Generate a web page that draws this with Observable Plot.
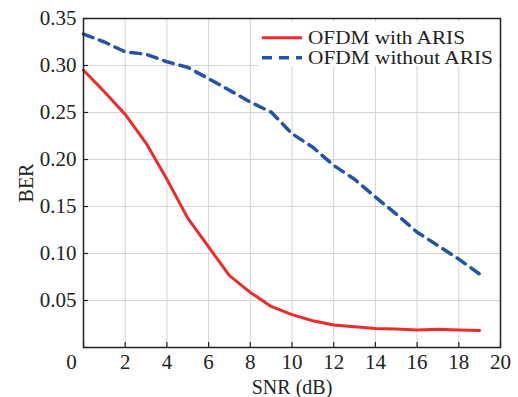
<!DOCTYPE html>
<html>
<head>
<meta charset="utf-8">
<script src="https://cdn.jsdelivr.net/npm/d3@7"></script>
<script src="https://cdn.jsdelivr.net/npm/@observablehq/plot@0.6"></script>
<style>
  html, body { margin: 0; padding: 0; background: white; }
  #chart { position: relative; width: 518px; height: 397px; }
</style>
</head>
<body>
<div id="chart"></div>
<script>
const snr = [0,1,2,3,4,5,6,7,8,9,10,11,12,13,14,15,16,17,18,19];
const berWithARIS = [0.295,0.272,0.248,0.2175,0.179,0.1376,0.107,0.0764,0.0586,0.0437,0.035,0.0285,0.0239,0.022,0.0203,0.0196,0.0185,0.0194,0.0187,0.0182];
const berWithoutARIS = [0.3334,0.325,0.3145,0.312,0.304,0.298,0.286,0.2737,0.261,0.2505,0.2275,0.213,0.1937,0.179,0.16,0.142,0.1226,0.1084,0.094,0.078];
const seriesNames = ["OFDM with ARIS", "OFDM without ARIS"];
const seriesColors = ["#ee2b2b", "#2553a5"];
const xTicks = [0,2,4,6,8,10,12,14,16,18,20];
const yTicks = [0,0.05,0.10,0.15,0.20,0.25,0.30,0.35];

const rows = [];
snr.forEach((x, i) => {
  rows.push({snr: x, ber: berWithARIS[i], series: seriesNames[0]});
  rows.push({snr: x, ber: berWithoutARIS[i], series: seriesNames[1]});
});

const font = "'Liberation Serif', 'Times New Roman', serif";
const ink = "#222";

const plot = Plot.plot({
  width: 518,
  height: 397,
  marginLeft: 83,
  marginRight: 18,
  marginTop: 18,
  marginBottom: 50,
  style: {fontFamily: font, fontSize: "21px", color: ink, background: "white", overflow: "visible"},
  x: {domain: [0, 20]},
  y: {domain: [0, 0.35]},
  marks: [
    Plot.gridX(xTicks, {stroke: "#d4d4d4", strokeOpacity: 1, strokeWidth: 1}),
    Plot.gridY(yTicks, {stroke: "#d4d4d4", strokeOpacity: 1, strokeWidth: 1}),
    Plot.line(rows.filter(d => d.series === seriesNames[0]), {x: "snr", y: "ber", stroke: seriesColors[0], strokeWidth: 3}),
    Plot.line(rows.filter(d => d.series === seriesNames[1]), {x: "snr", y: "ber", stroke: seriesColors[1], strokeWidth: 3.5, strokeDasharray: "10,7"}),
    Plot.frame({stroke: ink, strokeWidth: 1.5}),
    Plot.axisX(xTicks, {tickSize: -5, text: null, label: null, stroke: ink, strokeWidth: 1.2}),
    Plot.axisY(yTicks, {tickSize: -5, text: null, label: null, stroke: ink, strokeWidth: 1.2}),
    Plot.axisX(xTicks.filter(d => d !== 0), {tickSize: 0, tickPadding: 7, label: null, fill: ink}),
    Plot.axisX([0], {tickSize: 0, tickPadding: 7, dx: -12, label: null, fill: ink}),
    Plot.axisX([], {tickSize: 0, label: "SNR (dB)", labelAnchor: "center", labelOffset: 46, labelArrow: "none", fontSize: 20, fill: ink}),
    Plot.axisY(yTicks.filter(d => d !== 0), {tickSize: 0, tickPadding: 7, tickFormat: d3.format(".2f"), label: null, fill: ink}),
    Plot.axisY([], {tickSize: 0, label: "BER", labelAnchor: "center", labelOffset: 65, labelArrow: "none", fontSize: 20, fill: ink})
  ]
});

document.getElementById("chart").appendChild(plot);

// Legend (inside top-right, white background)
const svg = d3.select(plot);
const legendWidths = [157, 185];
const lg = svg.append("g")
  .attr("font-family", font).attr("font-size", 17.8)
  .attr("text-anchor", "start");
lg.append("rect").attr("x", 258).attr("y", 22).attr("width", 240.5).attr("height", 44)
  .style("fill", "white").style("stroke", "none");
seriesNames.forEach((name, i) => {
  const cy = 37.7 + i * 20;
  lg.append("line").attr("x1", 262).attr("x2", 302).attr("y1", cy).attr("y2", cy)
    .style("stroke", seriesColors[i]).style("stroke-width", i === 0 ? 3 : 3.5)
    .style("stroke-dasharray", i === 0 ? "none" : "10,7");
  lg.append("text").attr("x", 308).attr("y", cy).attr("dy", "0.35em")
    .attr("textLength", legendWidths[i]).attr("lengthAdjust", "spacingAndGlyphs")
    .style("fill", ink).style("text-anchor", "start").text(name);
});
</script>
</body>
</html>
